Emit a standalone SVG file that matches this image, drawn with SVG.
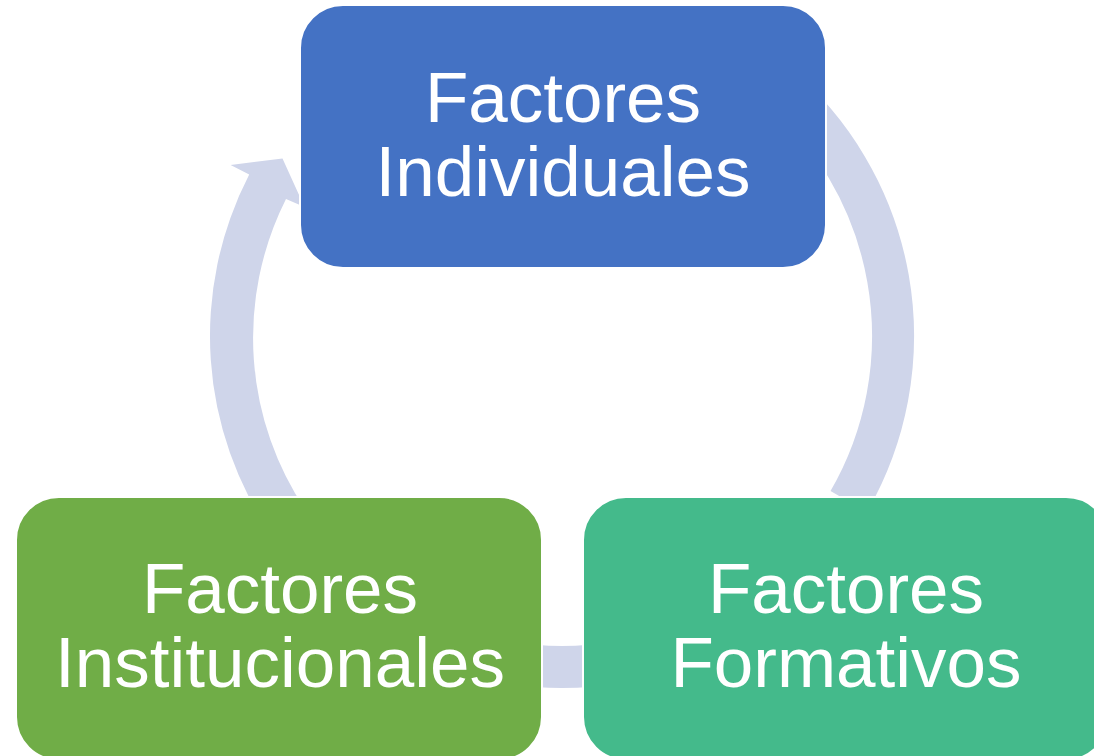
<svg xmlns="http://www.w3.org/2000/svg" width="1094" height="756" viewBox="0 0 1094 756">
<style>
.arc{fill:none;stroke:#CFD5EA;stroke-width:42;stroke-linecap:butt}
.arrow{fill:#CFD5EA;stroke:none}
.box{stroke:#FFFFFF;stroke-width:2}
.lbl{font-family:"Liberation Sans",Arial,sans-serif;font-size:71px;fill:#FFFFFF;text-anchor:middle}
</style>
<rect width="1094" height="756" fill="#FFFFFF"/>
<g id="connectors">
<path class="arc" d="M774.8,82.4 A331,331 0 0 1 848.7,501.5"/>
<path class="arc" d="M619.5,662 A331,331 0 0 1 504.5,662"/>
<path class="arrow" d="M273.6,537.9 A352,352 0 0 1 249.2,174.6 L230.6,164.9 L282.5,158.6 L304.5,207 L286,199 A309,309 0 0 0 308.1,513.8 Z"/>
</g>
<g id="node-individuales">
<rect class="box" x="300" y="5" width="526" height="263" rx="43" ry="43" fill="#4472C4"/>
<text class="lbl" x="563" y="122">Factores</text>
<text class="lbl" x="563" y="196">Individuales</text>
</g>
<g id="node-institucionales">
<rect class="box" x="16" y="497" width="526" height="263" rx="43" ry="43" fill="#70AD47"/>
<text class="lbl" x="280" y="613">Factores</text>
<text class="lbl" x="280" y="687">Institucionales</text>
</g>
<g id="node-formativos">
<rect class="box" x="583" y="497" width="526" height="263" rx="43" ry="43" fill="#44BA8B"/>
<text class="lbl" x="846" y="613">Factores</text>
<text class="lbl" x="846" y="687">Formativos</text>
</g>
</svg>
